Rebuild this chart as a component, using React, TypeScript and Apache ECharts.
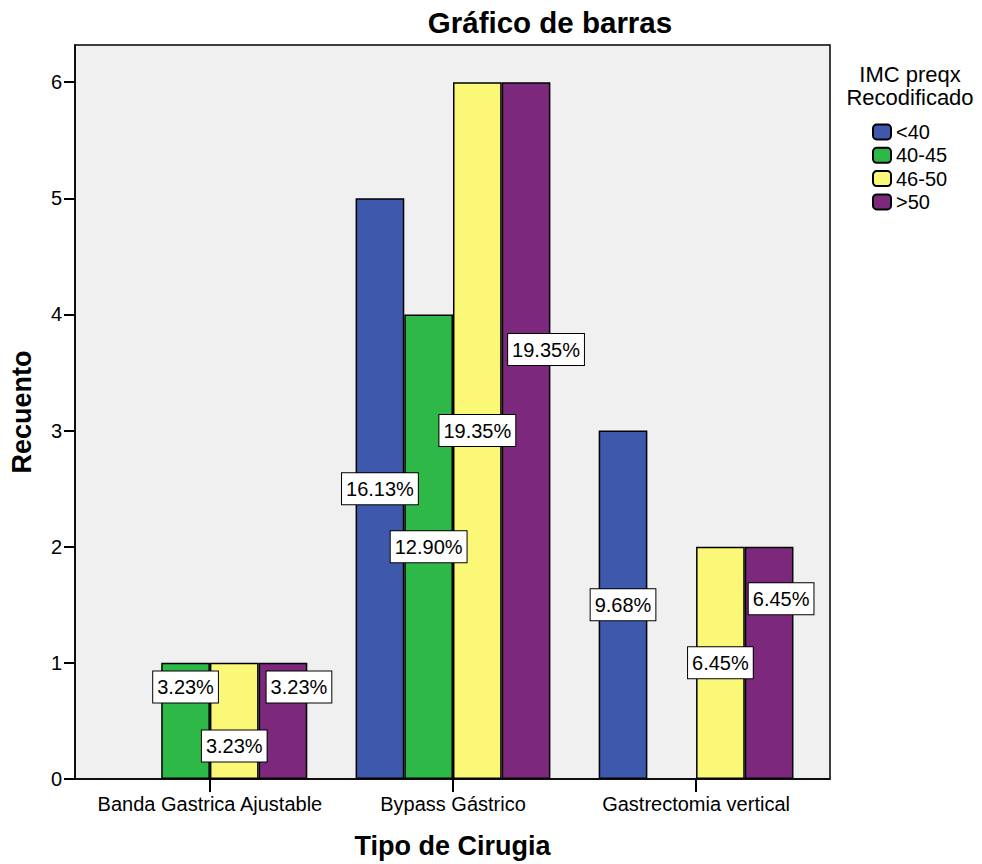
import React, { useEffect, useRef } from "react";
import * as echarts from "echarts";

// ---- data ----
const categories = ["Banda Gastrica Ajustable", "Bypass Gástrico", "Gastrectomia vertical"];
const groupNames = ["<40", "40-45", "46-50", ">50"];
const countsLt40 = [null, 5, 3];
const counts40to45 = [1, 4, null];
const counts46to50 = [1, 6, 2];
const countsGt50 = [1, 6, 2];
const yTicks = [0, 1, 2, 3, 4, 5, 6];

// ---- styles ----
const colors = ["#3e58ac", "#2eb848", "#fbf877", "#7b287d"];
// label offsets [dx, dy] in px, per series, per category (to mimic placement)
const labelOffsets: number[][][] = [
  [[0, 0], [0, 0], [0, 0]],
  [[0, -34], [0, 0], [0, 0]],
  [[0, 25], [0, 0], [0, 0]],
  [[16, -34], [20, -81], [12, -64]],
];
const FONT = "'Liberation Sans', Arial, Helvetica, sans-serif";

export default function App() {
  const ref = useRef<HTMLDivElement>(null);
  useEffect(() => {
    if (!ref.current) return;
    const chart = echarts.init(ref.current, null, { renderer: "svg" });
    const allSeries = [countsLt40, counts40to45, counts46to50, countsGt50];
    const total = allSeries.reduce(
      (s, arr) => s + arr.reduce((a: number, v) => a + (v == null ? 0 : (v as number)), 0),
      0
    );
    const series: any[] = allSeries.map((arr, si) => ({
      name: groupNames[si],
      type: "bar",
      barWidth: 48.7,
      barGap: "0%",
      itemStyle: { color: colors[si], borderColor: "#000", borderWidth: 1.5 },
      label: {
        show: true,
        position: "inside",
        color: "#000",
        fontFamily: FONT,
        fontSize: 20,
        lineHeight: 22,
        backgroundColor: "#fff",
        borderColor: "#000",
        borderWidth: 1,
        padding: [5, 4, 4, 4],
        formatter: (p: any) => ((p.value[1] / total) * 100).toFixed(2) + "%",
      },
      data: arr.map((v, ci) =>
        v == null
          ? [ci, "-"]
          : { value: [ci, v], label: { offset: labelOffsets[si][ci] } }
      ),
    }));

    chart.setOption({
      animation: false,
      backgroundColor: "#fff",
      textStyle: { fontFamily: FONT },
      grid: {
        left: 73,
        top: 45,
        width: 757,
        height: 737,
        show: true,
        backgroundColor: "#f0f0f0",
        borderColor: "#000",
        borderWidth: 1.5,
      },
      legend: {
        orient: "vertical",
        left: 872,
        top: 122,
        padding: 0,
        itemWidth: 18,
        itemHeight: 15,
        itemGap: 3.3,
        textStyle: { fontFamily: FONT, fontSize: 20, lineHeight: 20, color: "#000" },
        data: groupNames,
      },
      graphic: [
        {
          type: "text",
          x: 550,
          y: 22,
          style: {
            text: "Gráfico de barras",
            align: "center",
            verticalAlign: "middle",
            font: `bold 29.5px ${FONT}`,
            fill: "#000",
          },
        },
        {
          type: "text",
          x: 910,
          y: 74,
          style: {
            text: "IMC preqx",
            align: "center",
            verticalAlign: "middle",
            font: `22px ${FONT}`,
            fill: "#000",
          },
        },
        {
          type: "text",
          x: 910,
          y: 97,
          style: {
            text: "Recodificado",
            align: "center",
            verticalAlign: "middle",
            font: `22px ${FONT}`,
            fill: "#000",
          },
        },
      ],
      xAxis: {
        type: "value",
        min: -0.555,
        max: 2.551,
        name: "Tipo de Cirugia",
        nameLocation: "middle",
        nameGap: 53,
        nameTextStyle: { fontFamily: FONT, fontSize: 27, fontWeight: "bold", color: "#000" },
        splitLine: { show: false },
        axisLine: { show: true, onZero: false, lineStyle: { color: "#000", width: 1.5 } },
        axisTick: {
          show: true,
          length: 13,
          customValues: [0, 1, 2],
          lineStyle: { color: "#000", width: 2 },
        },
        axisLabel: {
          customValues: [0, 1, 2],
          formatter: (v: number) => categories[Math.round(v)] ?? "",
          fontFamily: FONT,
          fontSize: 20,
          color: "#000",
          margin: 15,
        },
      },
      yAxis: {
        type: "value",
        min: 0,
        max: 6.32,
        name: "Recuento",
        nameLocation: "middle",
        nameGap: 40,
        nameTextStyle: { fontFamily: FONT, fontSize: 27, fontWeight: "bold", color: "#000" },
        splitLine: { show: false },
        axisLine: { show: true, onZero: false, lineStyle: { color: "#000", width: 1.5 } },
        axisTick: {
          show: true,
          length: 11,
          customValues: yTicks,
          lineStyle: { color: "#000", width: 2 },
        },
        axisLabel: {
          customValues: yTicks,
          fontFamily: FONT,
          fontSize: 20,
          color: "#000",
          margin: 13,
        },
      },
      series,
    });
    return () => chart.dispose();
  }, []);
  return (
    <div
      ref={ref}
      style={{ position: "fixed", left: 0, top: 0, width: 982, height: 864 }}
    />
  );
}
